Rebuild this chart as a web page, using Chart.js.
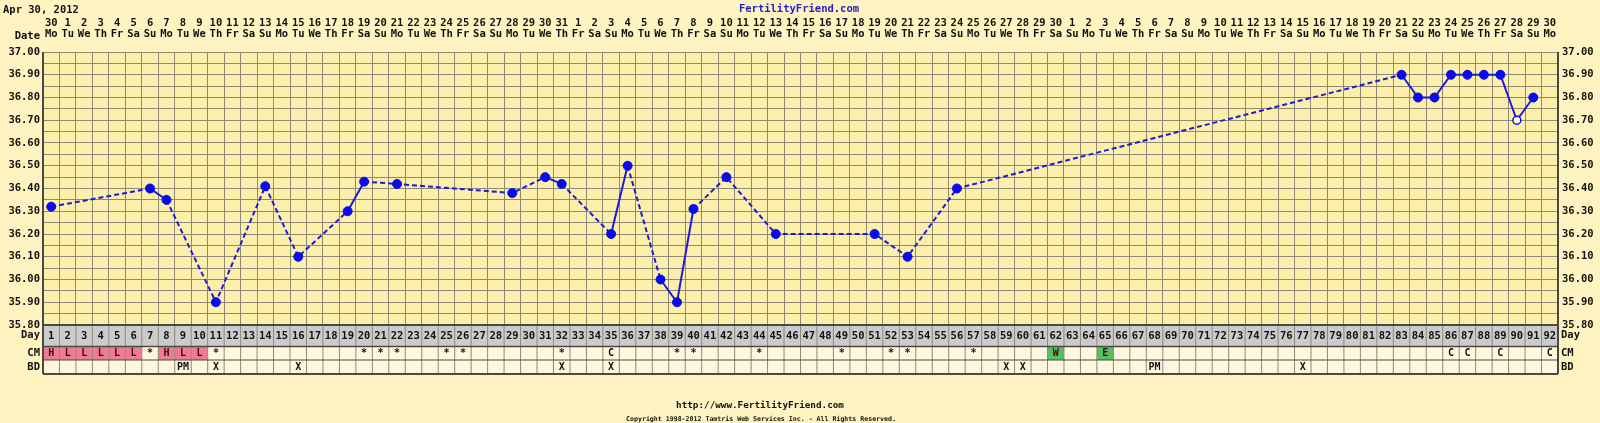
<!DOCTYPE html>
<html>
<head>
<meta charset="utf-8">
<script src="https://cdn.jsdelivr.net/npm/chart.js@4/dist/chart.umd.min.js"></script>
<style>
  html, body { margin: 0; padding: 0; background: #fff3c2; }
  canvas { display: block; }
</style>
</head>
<body>
<canvas id="chart" width="1600" height="423"></canvas>
<script>
// chart data
const chartDate = 'Apr 30, 2012';
const siteName = 'FertilityFriend.com';
const siteUrl = 'http://www.FertilityFriend.com';
const copyright = 'Copyright 1998-2012 Tamtris Web Services Inc. - All Rights Reserved.';

const cycleDays = Array.from({ length: 92 }, (_, i) => i + 1);
const monthDays = [30,
  1, 2, 3, 4, 5, 6, 7, 8, 9, 10, 11, 12, 13, 14, 15, 16, 17, 18, 19, 20, 21, 22, 23, 24, 25, 26, 27, 28, 29, 30, 31,
  1, 2, 3, 4, 5, 6, 7, 8, 9, 10, 11, 12, 13, 14, 15, 16, 17, 18, 19, 20, 21, 22, 23, 24, 25, 26, 27, 28, 29, 30,
  1, 2, 3, 4, 5, 6, 7, 8, 9, 10, 11, 12, 13, 14, 15, 16, 17, 18, 19, 20, 21, 22, 23, 24, 25, 26, 27, 28, 29, 30];
const WEEK = ['Mo', 'Tu', 'We', 'Th', 'Fr', 'Sa', 'Su'];
const weekdays = cycleDays.map(d => WEEK[(d - 1) % 7]);

const tempDays = [1, 7, 8, 11, 14, 16, 19, 20, 22, 29, 31, 32, 35, 36, 38, 39, 40, 42, 45, 51, 53, 56,
  83, 84, 85, 86, 87, 88, 89, 90, 91];
const temps = [36.32, 36.40, 36.35, 35.90, 36.41, 36.10, 36.30, 36.43, 36.42, 36.38, 36.45, 36.42, 36.20, 36.50,
  36.00, 35.90, 36.31, 36.45, 36.20, 36.20, 36.10, 36.40,
  36.90, 36.80, 36.80, 36.90, 36.90, 36.90, 36.90, 36.70, 36.80];
const discardedDays = [90];

const cmDays = [1, 2, 3, 4, 5, 6, 7, 8, 9, 10, 11, 20, 21, 22, 25, 26, 32, 35, 39, 40, 44, 49, 52, 53, 57, 62, 65,
  86, 87, 89, 92];
const cmCodes = ['H', 'L', 'L', 'L', 'L', 'L', '*', 'H', 'L', 'L', '*', '*', '*', '*', '*', '*', '*', 'C', '*', '*',
  '*', '*', '*', '*', '*', 'W', 'E', 'C', 'C', 'C', 'C'];

const bdDays = [9, 11, 16, 32, 35, 59, 60, 68, 77];
const bdCodes = ['PM', 'X', 'X', 'X', 'X', 'X', 'X', 'PM', 'X'];

// styles
const PAGE_BG = '#fff3c2';
const PLOT_BG = '#fcefac';
const GRID = '#8e8a76';
const EDGE = '#4a4a44';
const INK = '#111111';
const DOT = '#0a0aee';
const LINE = '#1c1cd6';
const MONO = '"DejaVu Sans Mono", monospace';
const CM_FILL = { H: '#f07a94', L: '#f07a94', W: '#55c060', E: '#55c060' };

const font = (size) => `bold ${size}px ${MONO}`;

function tableRows(a) {
  const day = a.bottom;
  const cm = day + 21.5;
  const bd = cm + 13.5;
  return { day, cm, bd, end: bd + 14 };
}

function cellEdges(chart, d) {
  const x = chart.scales.x;
  const w = (x.right - x.left) / cycleDays.length;
  const c = x.getPixelForValue(cycleDays.indexOf(d));
  return [c - w / 2, c + w / 2, c];
}

const sheet = {
  id: 'sheet',
  beforeDraw(chart) {
    const { ctx, chartArea: a } = chart;
    const t = tableRows(a);
    ctx.save();
    ctx.fillStyle = PAGE_BG;
    ctx.fillRect(0, 0, chart.width, chart.height);
    ctx.fillStyle = PLOT_BG;
    ctx.fillRect(a.left, a.top, a.right - a.left, a.bottom - a.top);
    ctx.fillStyle = '#cbcbcb';
    ctx.fillRect(a.left, t.day, a.right - a.left, t.cm - t.day);
    ctx.fillStyle = '#fff7de';
    ctx.fillRect(a.left, t.cm, a.right - a.left, t.end - t.cm);
    cmDays.forEach((d, i) => {
      const fill = CM_FILL[cmCodes[i]];
      if (!fill) return;
      const [l, r] = cellEdges(chart, d);
      ctx.fillStyle = fill;
      ctx.fillRect(l, t.cm, r - l, t.bd - t.cm);
    });
    ctx.restore();
  },
  afterDraw(chart) {
    const { ctx, chartArea: a } = chart;
    const t = tableRows(a);
    ctx.save();

    // cell borders
    ctx.strokeStyle = GRID;
    ctx.lineWidth = 1;
    cycleDays.forEach(d => {
      const [l] = cellEdges(chart, d);
      ctx.beginPath();
      ctx.moveTo(l, t.day);
      ctx.lineTo(l, t.end);
      ctx.stroke();
    });
    ctx.strokeStyle = EDGE;
    [[t.day, 2], [t.cm, 1.5], [t.bd, 1.2], [t.end, 2]].forEach(([y, lw]) => {
      ctx.lineWidth = lw;
      ctx.beginPath();
      ctx.moveTo(a.left, y);
      ctx.lineTo(a.right, y);
      ctx.stroke();
    });
    ctx.lineWidth = 2;
    [a.left, a.right].forEach(xp => {
      ctx.beginPath();
      ctx.moveTo(xp, a.top);
      ctx.lineTo(xp, t.end);
      ctx.stroke();
    });

    // CM and BD codes
    ctx.font = font(10);
    ctx.textAlign = 'center';
    ctx.textBaseline = 'middle';
    cmDays.forEach((d, i) => {
      const [, , c] = cellEdges(chart, d);
      ctx.fillStyle = CM_FILL[cmCodes[i]] ? '#3a0a14' : INK;
      ctx.fillText(cmCodes[i], c, (t.cm + t.bd) / 2 + 0.5);
    });
    ctx.fillStyle = INK;
    bdDays.forEach((d, i) => {
      const [, , c] = cellEdges(chart, d);
      ctx.fillText(bdCodes[i], c, (t.bd + t.end) / 2 + 0.5);
    });

    // row labels
    ctx.font = font(10.5);
    ctx.textAlign = 'right';
    ctx.fillText('Date', a.left - 3, 36);
    ctx.fillText('Day', a.left - 3, (t.day + t.cm) / 2);
    ctx.fillText('CM', a.left - 3, (t.cm + t.bd) / 2 + 0.5);
    ctx.fillText('BD', a.left - 3, (t.bd + t.end) / 2 + 0.5);
    ctx.textAlign = 'left';
    ctx.fillText('Day', a.right + 3, (t.day + t.cm) / 2);
    ctx.fillText('CM', a.right + 3, (t.cm + t.bd) / 2 + 0.5);
    ctx.fillText('BD', a.right + 3, (t.bd + t.end) / 2 + 0.5);

    // header and footer
    ctx.fillText(chartDate, 3, 10);
    ctx.textAlign = 'center';
    ctx.fillStyle = '#1f1fc8';
    ctx.fillText(siteName, 799, 9);
    ctx.fillStyle = INK;
    ctx.font = font(9.3);
    ctx.fillText(siteUrl, 760, 406);
    ctx.font = font(6.6);
    ctx.fillText(copyright, 761, 419);
    ctx.restore();
  }
};

const yTicks = {
  stepSize: 0.05,
  autoSkip: false,
  maxTicksLimit: 100,
  color: INK,
  font: { family: MONO, size: 10.5, weight: 'bold' },
  callback: v => (Math.round(v * 100) % 10 === 0 ? v.toFixed(2) : '')
};

new Chart(document.getElementById('chart'), {
  type: 'line',
  data: {
    datasets: [{
      data: tempDays.map((d, i) => ({ x: String(d), y: temps[i] })),
      xAxisID: 'x',
      yAxisID: 'y',
      borderColor: LINE,
      borderWidth: 2,
      tension: 0,
      clip: false,
      pointRadius: tempDays.map(d => (discardedDays.includes(d) ? 4 : 4.5)),
      pointBackgroundColor: tempDays.map(d => (discardedDays.includes(d) ? '#fffbea' : DOT)),
      pointBorderColor: DOT,
      pointBorderWidth: tempDays.map(d => (discardedDays.includes(d) ? 1.5 : 1)),
      segment: {
        borderDash: ctx => (ctx.p1.parsed.x - ctx.p0.parsed.x > 1 ? [5, 3] : undefined)
      }
    }]
  },
  options: {
    responsive: false,
    devicePixelRatio: 1,
    animation: false,
    events: [],
    layout: { padding: 0 },
    plugins: { legend: { display: false }, tooltip: { enabled: false }, title: { display: false } },
    scales: {
      x: {
        type: 'category',
        labels: cycleDays.map(String),
        position: 'bottom',
        offset: true,
        grid: { offset: true, color: GRID, drawTicks: false },
        border: { display: false },
        ticks: {
          autoSkip: false,
          maxRotation: 0,
          padding: 5.5,
          color: INK,
          font: { family: MONO, size: 10.5, weight: 'bold', lineHeight: 1.05 }
        },
        afterFit: s => { s.height = 98; }
      },
      xTop: {
        type: 'category',
        labels: cycleDays.map(String),
        position: 'top',
        offset: true,
        grid: { display: false },
        border: { display: false },
        ticks: {
          autoSkip: false,
          maxRotation: 0,
          padding: 4.5,
          color: INK,
          font: { family: MONO, size: 10.5, weight: 'bold', lineHeight: 1.05 },
          callback: (v, i) => [String(monthDays[i]), weekdays[i]]
        },
        afterFit: s => { s.height = 52; }
      },
      y: {
        type: 'linear',
        position: 'left',
        min: 35.8,
        max: 37.0,
        grid: { color: GRID, drawTicks: false },
        border: { display: false },
        ticks: { ...yTicks, padding: 3 },
        afterFit: s => { s.width = 43; }
      },
      y2: {
        type: 'linear',
        position: 'right',
        min: 35.8,
        max: 37.0,
        grid: { display: false, drawTicks: false },
        border: { display: false },
        ticks: { ...yTicks, padding: 4 },
        afterFit: s => { s.width = 42; }
      }
    }
  },
  plugins: [sheet]
});
</script>
</body>
</html>
